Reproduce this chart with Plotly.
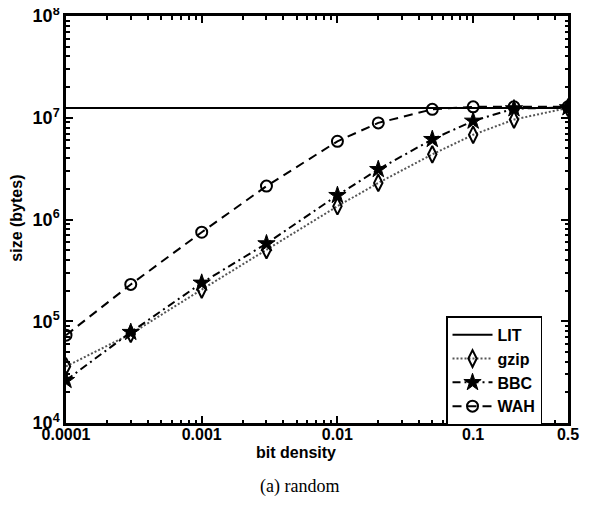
import plotly.graph_objects as go

density = [0.0001, 0.0003, 0.001, 0.003, 0.01, 0.02, 0.05, 0.1, 0.2, 0.5]
lit = [1.25e7] * len(density)
gzip = [3.6e4, 7.5e4, 2.05e5, 5.0e5, 1.35e6, 2.29e6, 4.37e6, 6.8e6, 9.6e6, 1.25e7]
bbc = [2.63e4, 7.8e4, 2.38e5, 5.8e5, 1.73e6, 3.11e6, 6.14e6, 9.3e6, 1.23e7, 1.26e7]
wah = [7.3e4, 2.3e5, 7.5e5, 2.13e6, 5.87e6, 8.9e6, 1.21e7, 1.28e7, 1.28e7, 1.28e7]

x_ticks = [0.0001, 0.001, 0.01, 0.1, 0.5]
x_ticklabels = ["0.0001", "0.001", "0.01", "0.1", "0.5"]
y_ticks = [1e4, 1e5, 1e6, 1e7, 1e8]
y_ticklabels = ["10<sup>4</sup>", "10<sup>5</sup>", "10<sup>6</sup>", "10<sup>7</sup>", "10<sup>8</sup>"]

x_minor = [m * 10.0 ** e for e in range(-4, 0) for m in range(2, 10) if m * 10.0 ** e < 0.5]
y_minor = [m * 10.0 ** e for e in range(4, 8) for m in range(2, 10)]

SANS = "Liberation Sans, Arial"

fig = go.Figure()
fig.add_trace(go.Scatter(x=density, y=lit, name="<b>LIT</b>", mode="lines",
                         line=dict(color="black", width=2)))
fig.add_trace(go.Scatter(x=density, y=gzip, name="<b>gzip</b>", mode="lines+markers",
                         line=dict(color="#555555", width=2, dash="2px,2px"),
                         marker=dict(symbol="diamond-tall-open", size=12, color="black",
                                     line=dict(width=2, color="black"))))
fig.add_trace(go.Scatter(x=density, y=bbc, name="<b>BBC</b>", mode="lines+markers",
                         line=dict(color="black", width=2, dash="8px,4px,2px,4px"),
                         marker=dict(symbol="star", size=13, color="black",
                                     line=dict(width=1, color="black"))))
fig.add_trace(go.Scatter(x=density, y=wah, name="<b>WAH</b>", mode="lines+markers",
                         line=dict(color="black", width=2, dash="9px,6px"),
                         marker=dict(symbol="circle-open", size=11, color="black",
                                     line=dict(width=2, color="black"))))
# invisible trace to carry the minor-tick axes
fig.add_trace(go.Scatter(x=[0.001], y=[1e5], xaxis="x2", yaxis="y2", mode="markers",
                         marker=dict(opacity=0), showlegend=False, hoverinfo="skip"))

xr = [-4, 0.69897 - 1]
yr = [4, 8]
fig.update_layout(
    xaxis=dict(type="log", range=xr, tickvals=x_ticks,
               ticktext=["<b>%s</b>" % t for t in x_ticklabels],
               ticks="inside", ticklen=7, tickwidth=1.5, tickcolor="black",
               showline=True, linecolor="black", linewidth=2.5, mirror="ticks",
               showgrid=False, zeroline=False, automargin=False,
               ticklabeloverflow="allow", ticklabelstandoff=-5,
               tickfont=dict(family=SANS, size=16, color="black")),
    yaxis=dict(type="log", range=yr, tickvals=y_ticks,
               ticktext=["<b>%s</b>" % t for t in y_ticklabels],
               ticks="inside", ticklen=7, tickwidth=1.5, tickcolor="black",
               showline=True, linecolor="black", linewidth=2.5, mirror="ticks",
               showgrid=False, zeroline=False, automargin=False,
               ticklabeloverflow="allow",
               tickfont=dict(family=SANS, size=18, color="black")),
    xaxis2=dict(type="log", range=xr, overlaying="x", tickvals=x_minor, showticklabels=False,
                ticks="inside", ticklen=3.5, tickwidth=1.5, tickcolor="black",
                mirror="ticks", showline=False, showgrid=False, zeroline=False, automargin=False),
    yaxis2=dict(type="log", range=yr, overlaying="y", tickvals=y_minor, showticklabels=False,
                ticks="inside", ticklen=3.5, tickwidth=1.5, tickcolor="black",
                mirror="ticks", showline=False, showgrid=False, zeroline=False, automargin=False),
    width=598, height=512,
    margin=dict(l=58, r=38, t=8, b=97, autoexpand=False),
    paper_bgcolor="white", plot_bgcolor="white",
    font=dict(family=SANS, color="black"),
    legend=dict(x=0.757, y=0.262, xanchor="left", yanchor="top",
                bgcolor="white", bordercolor="black", borderwidth=1.5,
                font=dict(family=SANS, size=16, color="black"),
                itemwidth=40, tracegroupgap=0),
    showlegend=True,
    annotations=[
        dict(text="<b>bit density</b>", xref="paper", yref="paper", x=0.458, y=-0.0737,
             xanchor="center", yanchor="middle", showarrow=False,
             font=dict(family=SANS, size=16, color="black")),
        dict(text="<b>size (bytes)</b>", xref="paper", yref="paper", x=-0.098, y=0.504,
             xanchor="center", yanchor="middle", showarrow=False, textangle=-90,
             font=dict(family=SANS, size=16, color="black")),
        dict(text="(a) random", xref="paper", yref="paper", x=0.466, y=-0.157,
             xanchor="center", yanchor="middle", showarrow=False,
             font=dict(family="Liberation Serif, Times New Roman", size=18, color="black")),
    ],
)
fig.write_html("out.html")
